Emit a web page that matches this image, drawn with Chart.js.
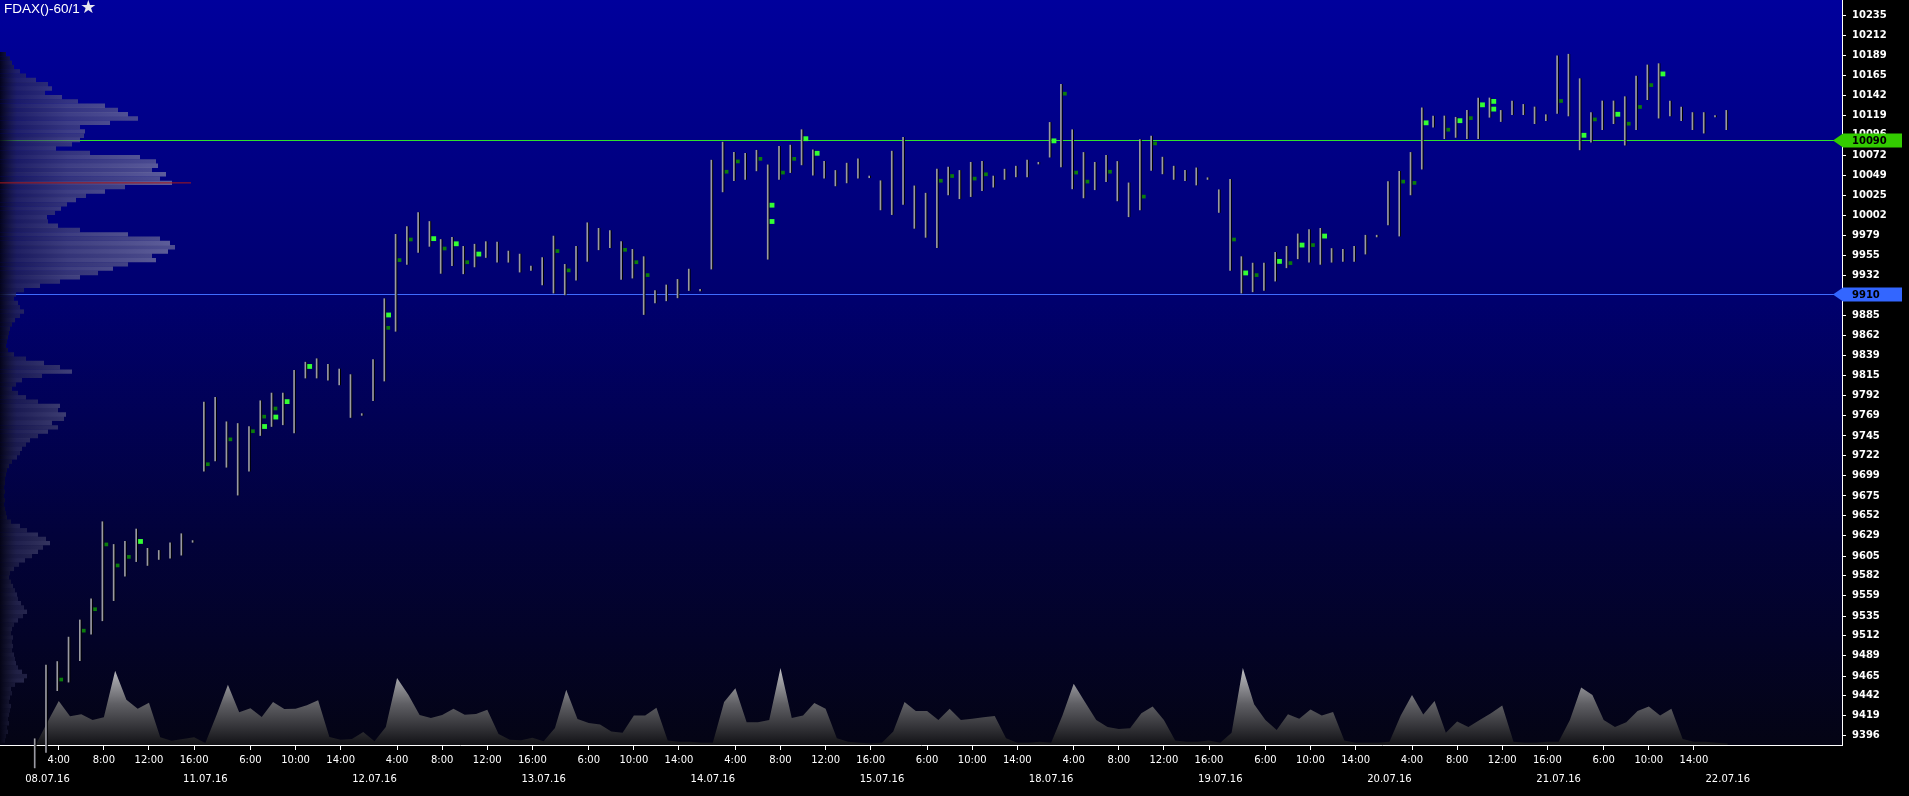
<!DOCTYPE html>
<html>
<head>
<meta charset="utf-8">
<script src="https://cdn.jsdelivr.net/npm/chart.js@4.4.1/dist/chart.umd.min.js"></script>
<style>
html,body{margin:0;padding:0;background:#000;overflow:hidden}
canvas{display:block}
</style>
</head>
<body>
<canvas id="c" width="1909" height="796"></canvas>
<script>
// ---------- DATA ----------
const chartTitle = 'FDAX()-60/1';

// hourly bars (15 per trading day, 2:00..16:00), high / low
const highs = [
 9392,9478,9482,9510.5,9530.5,9555,9645,9618.5,9622,9636.5,9614,9611.5,9620.5,9631,9623,
 9784.5,9790,9761.5,9759.5,9756,9786,9795,9795,9821.5,9831,9835,9828.5,9823,9816.5,9771,
 9834,9905,9980,9989,10005.5,9995,9974,9976.5,9966,9968.5,9971.5,9971,9960.5,9957,9943,
 9953,9978,9945,9966,9993.5,9987,9984.5,9971.5,9962.5,9954,9914.5,9921,9927.5,9939.5,9916,
 10066.5,10087.5,10075.5,10074.5,10078,10061,10082.5,10084,10102,10078.5,10065,10054.5,10063,10068,10048,
 10042.5,10077,10093,10036.5,10028,10056,10058.5,10054.5,10064,10065,10048,10056,10059.5,10066.5,10064,
 10110.5,10155,10102,10075.5,10064,10072,10065,10040,10090.5,10094.5,10070,10059.5,10054.5,10057.5,10046,
 10032,10044,9954,9946.5,9946.5,9959,9966,9980.5,9985.5,9987,9963.5,9962.5,9966,9979,9979,
 10041.5,10053.5,10075.5,10127.5,10118,10118,10116.5,10124.5,10139,10139,10124.5,10135.5,10131.5,10128.5,10119.5,
 10188,10190,10161.5,10122,10135.5,10135.5,10140.5,10164.5,10177.5,10179,10135.5,10128.5,10122,10122,10118.5,
 10124.5
];
const lows = [
 9358,9376,9448,9458,9483,9514,9529.5,9553,9581.5,9598.5,9594,9601,9602.5,9606,9621,
 9704,9716,9708.5,9676,9704,9745.5,9756,9758,9748.5,9812.5,9812.5,9810,9804.5,9766.5,9769,
 9786,9809,9867,9945,9959,9966,9934.5,9943.5,9934,9942,9953,9947.5,9947.5,9936,9938,
 9921,9911.5,9909.5,9926.5,9948.5,9962,9964.5,9927.5,9929,9886.5,9900,9902.5,9906,9914.5,9914,
 9939.5,10029.5,10042.5,10044,10054,9951,10044,10052,10061,10049,10045.5,10036.5,10040,10045.5,10046,
 10008.5,10003,10015,9987,9976.5,9964.5,10026,10021.5,10024,10031,10035,10044,10047,10047,10062,
 10070,10058.5,10033,10022.5,10032,10041.5,10019,10000.5,10008.5,10054.5,10050.5,10044,10042.5,10037.5,10044,
 10005.5,9938,9911.5,9913,9914.5,9925.5,9941,9951.5,9947.5,9945,9947.5,9948.5,9948.5,9957,9977,
 9991,9978,10026,10056,10105,10091.5,10093,10091.5,10091.5,10116.5,10111.5,10119.5,10119.5,10109,10112.5,
 10121,10118,10078.5,10087.5,10102,10109,10084,10102,10137,10115.5,10118,10112.5,10102,10098,10117,
 10102
];
// hourly volume (contracts)
const volumes = [
 400,9200,17600,11500,12300,10000,11100,29700,18100,14500,16900,3100,1700,2400,3100,
 800,12100,24100,13100,14700,11200,17200,14400,14500,15900,17900,3200,2100,2400,5200,
 1500,7200,26800,20100,12000,10800,12000,14500,12100,12400,14100,4400,2100,1900,2900,
 1500,6800,22100,10400,8800,8200,5400,4900,11800,11800,14900,1800,1300,1300,900,
 900,17200,22700,9100,9100,10000,30800,10800,11800,16800,14500,2700,1300,900,600,
 900,5400,17200,13600,13600,10000,14500,10000,10500,11100,11600,2700,900,900,1300,
 900,11800,24500,17200,10000,7200,6400,6700,12700,15400,10000,1800,1300,1300,1800,
 900,4900,30800,16300,10000,6000,12300,10500,14200,11800,13200,1800,900,900,900,
 1300,11800,20000,12200,17600,4900,9400,7200,10000,12700,15800,1300,900,900,1300,
 1300,10000,23000,20000,10000,7200,9100,13600,15400,11800,14500,2400,1300,1300,900,
 600
];

// volume profile: levels every 5 points from 10190 down to 9390
const profileTop = 10190;
const profileStep = 5;
const profileVolumes = [
 600,1000,1200,1400,2000,2600,3600,4800,5200,4500,
 6200,7800,10500,11800,12800,13800,11000,8000,8500,8400,
 8000,7200,5600,9000,14000,15600,15800,15200,16600,16000,
 17200,12500,10500,8600,7600,6700,6100,5500,4700,4800,
 5800,8000,12800,16000,17000,17500,16800,15200,15600,12800,
 11300,9800,8000,6000,4000,2400,1600,1400,1800,2000,
 2400,2000,1500,1200,1000,900,800,700,600,800,
 1400,2600,4400,6000,7200,4200,2200,1600,1200,1800,
 2600,3800,6000,5800,6600,6400,5200,5800,4800,3800,
 3000,2600,2200,2000,1700,1200,900,700,600,500,
 500,400,500,400,500,400,500,600,700,1100,
 2000,2700,3800,4600,5000,4300,3800,3200,2500,1900,
 1400,1000,900,1100,1300,1500,1700,1800,2100,2400,
 2700,2300,1800,1400,1200,1100,1300,1200,1300,1200,
 1400,1500,1600,1800,2200,2700,2400,1500,1100,1200,
 1000,900,1100,1000,900,800,900,700,800,600,
 500
];
const pocPrice = 10040;
const pocVolume = 19100;

// footprint highlights (bar index, price)
const brightBars = [9,20,21,22,24,31,35,37,39,65,65,68,69,90,107,110,112,114,123,126,128,129,129,137,140,144];
const brightPrices = [9622,9756,9767,9785,9826,9886,9975,9969,9957,10014,9995,10091.5,10074.5,10089,9935,9948.5,9967.5,9978,10110,10112.5,10131,10135,10126,10095.5,10120,10167];
const darkBars = [2,4,5,6,7,8,15,17,19,20,21,31,32,33,36,38,46,47,52,53,54,61,62,64,66,67,80,81,83,84,91,92,93,95,98,99,106,108,111,113,121,122,125,127,135,138,141,142,143];
const darkPrices = [9461,9518,9543,9618.5,9594,9604,9712,9741,9750.5,9767.5,9777,9871,9950,9974,9963.5,9947.5,9960.5,9938,9962,9947.5,9932.5,10053,10065,10068,10052,10068,10042.5,10048,10045,10050,10144,10052,10041.5,10053,10024,10086,9974,9932.5,9946.5,9967.5,10041.5,10040,10102,10115.5,10135.5,10114,10109,10128.5,10154];

// horizontal levels
const levels = [10090, 9910];
const levelColors = ['#2fe02f', '#3f6cff'];
const tagColors = ['#33cc00', '#3366ff'];

// axis tick labels
const yTickLabels = [10235,10212,10189,10165,10142,10119,10096,10072,10049,10025,10002,9979,9955,9932,9909,9885,9862,9839,9815,9792,9769,9745,9722,9699,9675,9652,9629,9605,9582,9559,9535,9512,9489,9465,9442,9419,9396];
const timeTickIndex = [2,6,10,14, 19,23,27, 32,36,40,44, 49,53,57, 62,66,70,74, 79,83,87, 92,96,100,104, 109,113,117, 122,126,130,134, 139,143,147];
const timeTickLabels = ['4:00','8:00','12:00','16:00','6:00','10:00','14:00','4:00','8:00','12:00','16:00','6:00','10:00','14:00','4:00','8:00','12:00','16:00','6:00','10:00','14:00','4:00','8:00','12:00','16:00','6:00','10:00','14:00','4:00','8:00','12:00','16:00','6:00','10:00','14:00'];
const dateTickIndex = [1,15,30,45,60,75,90,105,120,135,150];
const dateTickLabels = ['08.07.16','11.07.16','12.07.16','13.07.16','14.07.16','15.07.16','18.07.16','19.07.16','20.07.16','21.07.16','22.07.16'];

// ---------- BUILD ----------
const yMin = 9384.7, yMax = 10253.2;
const xMin = -3.21, xMax = 160.13;

const tickMap = new Map();
timeTickIndex.forEach((v, i) => tickMap.set(v, { label: timeTickLabels[i], date: false }));
dateTickIndex.forEach((v, i) => tickMap.set(v, { label: ['', dateTickLabels[i]], date: true }));
const xTickValues = [...tickMap.keys()].sort((a, b) => a - b);

const barData = highs.map((h, i) => ({ x: i, y: [lows[i], h] }));
const volData = volumes.map((v, i) => ({ x: i, y: v }));
const profileData = profileVolumes.map((v, i) => ({ x: v, y: profileTop - i * profileStep }));

function profileColor(ctx) {
  const chart = ctx.chart, a = chart.chartArea;
  if (!a) return 'rgba(100,100,130,0.5)';
  const g = chart.ctx.createLinearGradient(a.left, 0, a.left + 170, 0);
  const odd = ctx.dataIndex % 2 === 1;
  g.addColorStop(0, 'rgba(4,4,20,0.92)');
  g.addColorStop(0.1, odd ? 'rgba(42,42,80,0.62)' : 'rgba(48,48,88,0.66)');
  g.addColorStop(0.4, odd ? 'rgba(86,86,122,0.6)' : 'rgba(96,96,132,0.64)');
  g.addColorStop(1, odd ? 'rgba(130,130,160,0.6)' : 'rgba(145,145,172,0.64)');
  return g;
}
function volumeColor(ctx) {
  const chart = ctx.chart, a = chart.chartArea;
  if (!a) return 'rgba(120,120,120,0.8)';
  const g = chart.ctx.createLinearGradient(0, a.bottom - 82, 0, a.bottom);
  g.addColorStop(0, 'rgba(205,205,210,1)');
  g.addColorStop(0.5, 'rgba(95,95,100,1)');
  g.addColorStop(1, 'rgba(18,18,22,1)');
  return g;
}

const bgPlugin = {
  id: 'bg',
  beforeDraw(chart) {
    const { ctx, chartArea: a, width, height } = chart;
    ctx.save();
    ctx.fillStyle = '#000';
    ctx.fillRect(0, 0, width, height);
    const g = ctx.createLinearGradient(0, a.top, 0, a.bottom);
    g.addColorStop(0, '#00009c');
    g.addColorStop(0.4, '#00006e');
    g.addColorStop(0.72, '#02023a');
    g.addColorStop(1, '#040414');
    ctx.fillStyle = g;
    ctx.fillRect(a.left, a.top, a.right - a.left, a.bottom - a.top);
    ctx.restore();
  },
  beforeDatasetsDraw(chart) {
    const { ctx, chartArea: a } = chart;
    ctx.save();
    levels.forEach((lv, k) => {
      const y = Math.round(chart.scales.y.getPixelForValue(lv));
      ctx.fillStyle = levelColors[k];
      ctx.fillRect(a.left, y, a.right - a.left, 1);
    });
    ctx.restore();
  },
  afterDraw(chart) {
    const { ctx, chartArea: a, width } = chart;
    ctx.save();
    levels.forEach((lv, k) => {
      const y = Math.round(chart.scales.y.getPixelForValue(lv));
      ctx.fillStyle = tagColors[k];
      ctx.beginPath();
      ctx.moveTo(a.right - 9, y + 0.5);
      ctx.lineTo(a.right + 1, y - 6.5);
      ctx.lineTo(width - 7, y - 6.5);
      ctx.lineTo(width - 7, y + 7.5);
      ctx.lineTo(a.right + 1, y + 7.5);
      ctx.closePath();
      ctx.fill();
      ctx.fillStyle = '#000';
      ctx.font = 'bold 10px "DejaVu Sans"';
      ctx.textBaseline = 'middle';
      ctx.textAlign = 'left';
      ctx.fillText(String(lv), a.right + 10, y + 1);
    });
    ctx.font = '13.5px "Liberation Sans", Arial, sans-serif';
    ctx.fillStyle = '#ffffff';
    ctx.textBaseline = 'middle';
    ctx.textAlign = 'left';
    ctx.fillText(chartTitle, 4, 9);
    const w = ctx.measureText(chartTitle).width;
    ctx.font = '18px "DejaVu Sans"';
    ctx.fillStyle = '#e6e6ee';
    ctx.fillText('\u2605', 4 + w + 0.5, 8);
    ctx.restore();
  }
};

new Chart(document.getElementById('c'), {
  type: 'bar',
  data: {
    datasets: [
      { type: 'scatter', data: brightBars.map((b, i) => ({ x: b + 0.25, y: brightPrices[i] })),
        pointStyle: 'rect', pointRadius: 3.4, backgroundColor: '#33ff33', borderWidth: 0,
        xAxisID: 'x', yAxisID: 'y', order: 0 },
      { type: 'scatter', data: darkBars.map((b, i) => ({ x: b + 0.22, y: darkPrices[i] })),
        pointStyle: 'rect', pointRadius: 2.6, backgroundColor: '#0b7d0b', borderWidth: 0,
        xAxisID: 'x', yAxisID: 'y', order: 1 },
      { type: 'bar', data: barData, backgroundColor: '#9a9aa2', barThickness: 1,
        xAxisID: 'x', yAxisID: 'y', clip: false, order: 2 },
      { type: 'bar', data: barData, backgroundColor: '#000000', barThickness: 1,
        xAxisID: 'x', yAxisID: 'y', clip: false, order: 3 },
      { type: 'line', data: volData, xAxisID: 'x', yAxisID: 'yv', fill: 'origin',
        backgroundColor: volumeColor, borderColor: 'rgba(0,0,0,0)', borderWidth: 0,
        pointRadius: 0, tension: 0, order: 9 },
      { type: 'line', data: [{ x: 0, y: pocPrice }, { x: pocVolume, y: pocPrice }],
        xAxisID: 'xp', yAxisID: 'yp', borderColor: '#a81818', borderWidth: 1,
        pointRadius: 0, order: 8 },
      { type: 'bar', indexAxis: 'y', data: profileData, xAxisID: 'xp', yAxisID: 'yp',
        backgroundColor: profileColor, barThickness: 4.4, grouped: false,
        borderWidth: 0, inflateAmount: 0, order: 10 }
    ]
  },
  options: {
    responsive: false,
    devicePixelRatio: 1,
    animation: false,
    layout: { padding: 0, autoPadding: false },
    plugins: { legend: { display: false }, tooltip: { enabled: false }, title: { display: false } },
    scales: {
      x: {
        type: 'linear', position: 'bottom', min: xMin, max: xMax, offset: false,
        afterBuildTicks: s => { s.ticks = xTickValues.map(v => ({ value: v })); },
        afterFit: s => { s.height = 51; s.paddingLeft = 0; s.paddingRight = 0; },
        ticks: {
          autoSkip: false, maxRotation: 0, minRotation: 0, color: '#ffffff', padding: 1,
          font: { family: 'DejaVu Sans', size: 10, lineHeight: 1.9 },
          callback: v => (tickMap.get(v) || { label: '' }).label
        },
        grid: {
          offset: false, drawOnChartArea: false, drawTicks: true, tickLength: 5,
          color: '#ffffff',
          tickColor: ctx => (ctx.tick && tickMap.get(ctx.tick.value) && tickMap.get(ctx.tick.value).date) ? 'rgba(0,0,0,0)' : '#ffffff'
        },
        border: { display: true, color: '#ffffff', width: 1 }
      },
      y: {
        type: 'linear', position: 'right', min: yMin, max: yMax, offset: false,
        afterBuildTicks: s => { s.ticks = yTickLabels.map(v => ({ value: v })); },
        afterFit: s => { s.width = 67; s.paddingTop = 0; s.paddingBottom = 0; },
        ticks: {
          autoSkip: false, color: '#ffffff', padding: 6,
          font: { family: 'DejaVu Sans', size: 10, weight: 'bold' },
          callback: v => String(v)
        },
        grid: { offset: false, drawOnChartArea: false, drawTicks: true, tickLength: 4, color: '#ffffff', tickColor: '#ffffff' },
        border: { display: true, color: '#ffffff', width: 1 }
      },
      yv: { type: 'linear', display: false, min: 0, max: 298000, offset: false },
      xp: { type: 'linear', display: false, min: 0, max: 184200, offset: false, grid: { offset: false } },
      yp: { type: 'linear', display: false, min: yMin, max: yMax, offset: false, grid: { offset: false } }
    }
  },
  plugins: [bgPlugin]
});
</script>
</body>
</html>
